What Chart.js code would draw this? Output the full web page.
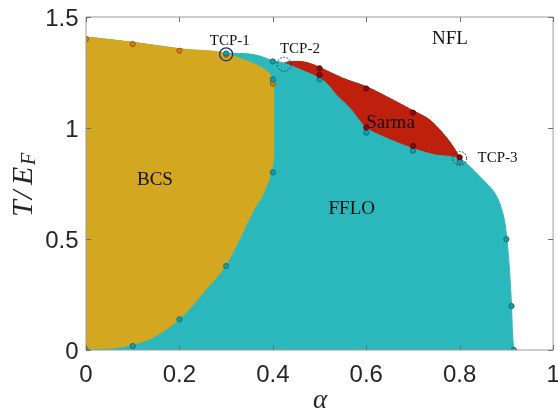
<!DOCTYPE html>
<html>
<head>
<meta charset="utf-8">
<script src="https://cdn.jsdelivr.net/npm/chart.js@4/dist/chart.umd.min.js"></script>
<style>
  html, body { margin: 0; padding: 0; background: #ffffff; }
  #wrap { width: 558px; height: 411px; }
</style>
</head>
<body>
<div id="wrap"><canvas id="c" width="558" height="411"></canvas></div>
<script>
// Axis ticks
const xTickValues = [0, 0.2, 0.4, 0.6, 0.8, 1];
const xTickLabels = ['0', '0.2', '0.4', '0.6', '0.8', '1'];
const yTickValues = [0, 0.5, 1, 1.5];
const yTickLabels = ['0', '0.5', '1', '1.5'];

// BCS phase: upper edge (towards normal / FFLO) and lower edge (towards FFLO);
// the lower edge runs on a little past the BCS wall, inside the FFLO area
const bcsUpperAlpha = [0, 0.1, 0.2, 0.3, 0.315, 0.344, 0.365, 0.383, 0.395, 0.403];
const bcsUpperT     = [1.41, 1.386, 1.357, 1.336, 1.324, 1.303, 1.284, 1.264, 1.239, 1.21];
const bcsLowerAlpha = [0, 0.058, 0.1, 0.144, 0.2, 0.258, 0.3, 0.319, 0.361, 0.385, 0.398, 0.403, 0.42];
const bcsLowerT     = [0, 0.005, 0.02, 0.053, 0.135, 0.27, 0.378, 0.45, 0.63, 0.72, 0.80, 0.85, 1.2];

// Outer edge of the ordered phases (FFLO / Sarma vs. normal Fermi liquid)
const outerAlpha = [0, 0.1, 0.2, 0.3, 0.329, 0.351, 0.372, 0.4, 0.41, 0.424,
                    0.436, 0.455, 0.479, 0.5, 0.55, 0.6, 0.65, 0.7, 0.736, 0.764, 0.786, 0.8,
                    0.82, 0.843, 0.862, 0.877, 0.889, 0.897, 0.901, 0.906, 0.911, 0.913, 0.916];
const outerT     = [1.41, 1.386, 1.357, 1.336, 1.336, 1.333, 1.324, 1.303, 1.299, 1.292,
                    1.299, 1.300, 1.291, 1.273, 1.224, 1.186, 1.134, 1.078, 1.036, 0.976, 0.916, 0.868,
                    0.83, 0.782, 0.74, 0.70, 0.64, 0.57, 0.499, 0.38, 0.198, 0.08, 0];

// Sarma pocket between TCP-2 and TCP-3; the lower edge continues a little
// along the outer edge on both sides so the FFLO colour closes the pocket cleanly
const sarmaUpperAlpha = [0.424, 0.436, 0.455, 0.479, 0.5, 0.55, 0.6, 0.65, 0.7, 0.736, 0.764, 0.786, 0.8];
const sarmaUpperT     = [1.292, 1.299, 1.300, 1.291, 1.273, 1.224, 1.186, 1.134, 1.078, 1.036, 0.976, 0.916, 0.868];
const sarmaLowerAlpha = [0.41, 0.424, 0.46, 0.5, 0.515, 0.536, 0.565, 0.593, 0.6, 0.636, 0.7, 0.75, 0.8, 0.82];
const sarmaLowerT     = [1.299, 1.292, 1.262, 1.224, 1.201, 1.149, 1.089, 1.014, 1.0, 0.961, 0.908, 0.878, 0.862, 0.83];

// Computed transition points
const bcsPtsAlpha   = [0, 0.1, 0.2, 0.3, 0.4];
const bcsPtsT       = [1.40, 1.378, 1.348, 1.33, 1.20];
const ffloPtsAlpha  = [0, 0.1, 0.2, 0.3, 0.4, 0.3, 0.4, 0.4, 0.5, 0.6, 0.7, 0.8, 0.9, 0.911, 0.916];
const ffloPtsT      = [0, 0.018, 0.138, 0.378, 0.80, 1.336, 1.30, 1.219, 1.219, 0.979, 0.898, 0.848, 0.499, 0.198, 0];
const sarmaPtsAlpha = [0.5, 0.5, 0.6, 0.6, 0.7, 0.7, 0.8];
const sarmaPtsT     = [1.269, 1.239, 1.178, 1.003, 1.069, 0.919, 0.868];

// Tricritical points
const tcpNames      = ['TCP-1', 'TCP-2', 'TCP-3'];
const tcpAlpha      = [0.3, 0.424, 0.8];
const tcpT          = [1.332, 1.287, 0.863];
const tcpLabelAlpha = [0.308, 0.458, 0.881];
const tcpLabelT     = [1.374, 1.336, 0.848];

// Phase names
const phaseNames = ['BCS', 'FFLO', 'Sarma', 'NFL'];
const phaseAlpha = [0.1476, 0.569, 0.652, 0.779];
const phaseT     = [0.743, 0.613, 1.0, 1.378];

const TEAL = '#2bb8bd';
const GOLD = '#d3a71f';
const RED  = '#bf200e';
const AXIS = '#9a9a9a';
const TICK = '#6e6e6e';
const TEXT = '#262626';

const pts = (xs, ys) => xs.map((x, i) => ({ x: x, y: ys[i] }));

function region(data, color, order) {
  return {
    data: data,
    fill: 'origin',
    backgroundColor: color,
    borderColor: color,
    borderWidth: 1,
    pointRadius: 0,
    cubicInterpolationMode: 'monotone',
    order: order
  };
}
function markers(data, fillColor, edgeColor, order) {
  return {
    data: data,
    showLine: false,
    fill: false,
    pointRadius: 2.6,
    pointBorderWidth: 0.9,
    pointBackgroundColor: fillColor,
    pointBorderColor: edgeColor,
    order: order
  };
}

const decor = {
  id: 'decor',
  afterDatasetsDraw(chart) {
    const { ctx, chartArea: a, scales: { x, y } } = chart;
    ctx.save();
    // frame
    ctx.strokeStyle = AXIS;
    ctx.lineWidth = 1;
    ctx.beginPath();
    ctx.moveTo(a.left, a.top); ctx.lineTo(a.right, a.top);
    ctx.lineTo(a.right, a.bottom); ctx.lineTo(a.left, a.bottom);
    ctx.lineTo(a.left, a.top);
    ctx.stroke();
    // inward ticks on all four sides
    const len = 5;
    ctx.strokeStyle = TICK;
    ctx.beginPath();
    xTickValues.forEach(v => {
      const px = Math.round(x.getPixelForValue(v)) + 0.5;
      ctx.moveTo(px, a.bottom); ctx.lineTo(px, a.bottom - len);
      ctx.moveTo(px, a.top); ctx.lineTo(px, a.top + len);
    });
    yTickValues.forEach(v => {
      const py = Math.round(y.getPixelForValue(v)) + 0.5;
      ctx.moveTo(a.left, py); ctx.lineTo(a.left + len, py);
      ctx.moveTo(a.right, py); ctx.lineTo(a.right - len, py);
    });
    ctx.stroke();

    // tricritical point rings
    ctx.strokeStyle = '#1e2d5a';
    tcpAlpha.forEach((v, i) => {
      const px = x.getPixelForValue(v), py = y.getPixelForValue(tcpT[i]);
      ctx.beginPath();
      if (i === 0) { ctx.setLineDash([]); ctx.lineWidth = 1.3; }
      else { ctx.setLineDash([1.6, 1.6]); ctx.lineWidth = 1; }
      ctx.arc(px, py, i === 0 ? 6.5 : 7, 0, Math.PI * 2);
      ctx.stroke();
    });
    ctx.setLineDash([]);

    // phase names
    ctx.fillStyle = '#111111';
    ctx.textAlign = 'center';
    ctx.textBaseline = 'alphabetic';
    ctx.font = '19px "Liberation Serif", "Times New Roman", serif';
    phaseNames.forEach((n, i) => {
      ctx.fillText(n, x.getPixelForValue(phaseAlpha[i]), y.getPixelForValue(phaseT[i]));
    });
    ctx.font = '15px "Liberation Serif", "Times New Roman", serif';
    tcpNames.forEach((n, i) => {
      ctx.fillText(n, x.getPixelForValue(tcpLabelAlpha[i]), y.getPixelForValue(tcpLabelT[i]));
    });

    // tick labels
    ctx.fillStyle = TEXT;
    ctx.font = '24px "Liberation Sans", Arial, sans-serif';
    ctx.textAlign = 'center';
    xTickValues.forEach((v, i) => {
      ctx.fillText(xTickLabels[i], x.getPixelForValue(v), a.bottom + 32);
    });
    ctx.textAlign = 'right';
    yTickValues.forEach((v, i) => {
      ctx.fillText(yTickLabels[i], a.left - 7.5, y.getPixelForValue(v) + 8.8);
    });

    // axis titles
    ctx.textAlign = 'center';
    ctx.font = 'italic 27px "Liberation Serif", "Times New Roman", serif';
    ctx.fillText('\u03b1', (a.left + a.right) / 2 + 0.5, 408);

    ctx.translate(32, 217);
    ctx.rotate(-Math.PI / 2);
    ctx.textAlign = 'left';
    ctx.font = 'italic 30px "Liberation Serif", "Times New Roman", serif';
    ctx.fillText('T', 0, 0);
    ctx.fillText('/', 18, 0);
    ctx.fillText('E', 32, 0);
    ctx.font = 'italic 20px "Liberation Serif", "Times New Roman", serif';
    ctx.fillText('F', 52, 3);
    ctx.restore();
  }
};

new Chart(document.getElementById('c'), {
  type: 'line',
  data: {
    datasets: [
      region(pts(outerAlpha, outerT), TEAL, 60),
      region(pts(sarmaUpperAlpha, sarmaUpperT), RED, 50),
      region(pts(sarmaLowerAlpha, sarmaLowerT), TEAL, 40),
      region(pts(bcsUpperAlpha, bcsUpperT), GOLD, 30),
      region(pts(bcsLowerAlpha, bcsLowerT), TEAL, 20),
      markers(pts(bcsPtsAlpha, bcsPtsT), '#d07c12', '#8f5306', 3),
      markers(pts(ffloPtsAlpha, ffloPtsT), '#1c9ca4', '#0c6a70', 2),
      markers(pts(sarmaPtsAlpha, sarmaPtsT), '#8e0a0a', '#5a0000', 1)
    ]
  },
  options: {
    responsive: false,
    animation: false,
    devicePixelRatio: 1,
    layout: { padding: { left: 0, right: 4.5, top: 17, bottom: 0 } },
    plugins: { legend: { display: false }, tooltip: { enabled: false } },
    scales: {
      x: {
        type: 'linear', min: 0, max: 1,
        grid: { display: false }, border: { display: false },
        ticks: { display: false },
        afterBuildTicks(s) { s.ticks = xTickValues.map(v => ({ value: v })); },
        afterFit(s) { s.height = 61; }
      },
      y: {
        type: 'linear', min: 0, max: 1.5,
        grid: { display: false }, border: { display: false },
        ticks: { display: false },
        afterBuildTicks(s) { s.ticks = yTickValues.map(v => ({ value: v })); },
        afterFit(s) { s.width = 86; }
      }
    }
  },
  plugins: [decor]
});
</script>
</body>
</html>
